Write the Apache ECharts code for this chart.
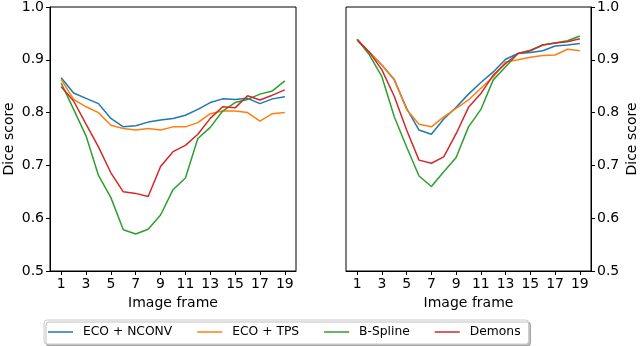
<!DOCTYPE html>
<html>
<head>
<meta charset="utf-8">
<script src="https://cdn.jsdelivr.net/npm/echarts@6/dist/echarts.min.js"></script>
<style>
    html, body { margin: 0; padding: 0; background: #fff; }
    #chart { width: 640px; height: 346px; }
</style>
</head>
<body>
<div id="chart"></div>
<script>
// 数据
var frames = [1,2,3,4,5,6,7,8,9,10,11,12,13,14,15,16,17,18,19];
var xTicks = [1,3,5,7,9,11,13,15,17,19];
var seriesNames = ['ECO + NCONV','ECO + TPS','B-Spline','Demons'];
var colors = ['#1f77b4','#ff7f0e','#2ca02c','#d62728'];

// 左图
var leftNconv = [0.866,0.837,0.827,0.817,0.789,0.773,0.775,0.782,0.786,0.789,0.795,0.806,0.819,0.826,0.825,0.827,0.817,0.826,0.830];
var leftTps = [0.863,0.825,0.811,0.800,0.776,0.770,0.767,0.770,0.767,0.773,0.773,0.781,0.798,0.803,0.803,0.800,0.784,0.798,0.800];
var leftBspline = [0.856,0.806,0.756,0.681,0.639,0.578,0.570,0.579,0.606,0.654,0.676,0.751,0.772,0.803,0.819,0.825,0.835,0.841,0.860];
var leftDemons = [0.849,0.822,0.778,0.735,0.686,0.650,0.647,0.641,0.698,0.726,0.738,0.759,0.789,0.811,0.809,0.832,0.824,0.833,0.843];

// 右图
var rightNconv = [0.939,0.914,0.890,0.862,0.808,0.767,0.759,0.788,0.810,0.835,0.857,0.877,0.901,0.912,0.914,0.917,0.926,0.928,0.931];
var rightTps = [0.939,0.914,0.890,0.863,0.806,0.778,0.773,0.792,0.808,0.824,0.846,0.868,0.896,0.900,0.905,0.908,0.909,0.920,0.917];
var rightBspline = [0.939,0.909,0.868,0.792,0.735,0.680,0.660,0.688,0.715,0.773,0.806,0.862,0.887,0.912,0.918,0.928,0.932,0.936,0.945];
var rightDemons = [0.937,0.914,0.881,0.831,0.767,0.710,0.704,0.716,0.760,0.810,0.836,0.871,0.893,0.912,0.917,0.928,0.932,0.934,0.940];

var font = 'DejaVu Sans';

function pairs(values) {
    var out = [];
    for (var i = 0; i < frames.length; i++) {
        out.push([frames[i], values[i]]);
    }
    return out;
}

function makeXAxis(idx) {
    return {
        type: 'value',
        gridIndex: idx,
        min: 0.1,
        max: 19.9,
        name: 'Image frame',
        nameLocation: 'middle',
        nameGap: 24,
        nameTextStyle: { fontFamily: font, fontSize: 14, color: '#000' },
        axisLine: { show: true, lineStyle: { color: '#000', width: 1 } },
        axisTick: { show: true, length: 4, customValues: xTicks, lineStyle: { color: '#000' } },
        axisLabel: { customValues: xTicks, margin: 6, fontFamily: font, fontSize: 14, color: '#000' },
        splitLine: { show: false }
    };
}

function makeYAxis(idx, pos) {
    return {
        type: 'value',
        gridIndex: idx,
        position: pos,
        min: 0.5,
        max: 1.0,
        interval: 0.1,
        name: 'Dice score',
        nameLocation: 'middle',
        nameRotate: 90,
        nameGap: 34,
        nameTextStyle: { fontFamily: font, fontSize: 14, color: '#000' },
        axisLine: { show: true, lineStyle: { color: '#000', width: 1 } },
        axisTick: { show: true, length: 4, lineStyle: { color: '#000' } },
        axisLabel: {
            margin: 6, fontFamily: font, fontSize: 14, color: '#000',
            formatter: function (v) { return v.toFixed(1); }
        },
        splitLine: { show: false }
    };
}

function makeLine(name, color, idx, values) {
    return {
        name: name,
        type: 'line',
        xAxisIndex: idx,
        yAxisIndex: idx,
        data: pairs(values),
        symbol: 'none',
        lineStyle: { color: color, width: 1.5 },
        itemStyle: { color: color },
        animation: false
    };
}

var myChart = echarts.init(document.getElementById('chart'));

var option = {
    backgroundColor: '#fff',
    animation: false,
    grid: [
        { left: 50, top: 7, width: 246, height: 264, show: true, borderColor: '#000', borderWidth: 1 },
        { left: 346, top: 7, width: 246, height: 264, show: true, borderColor: '#000', borderWidth: 1 }
    ],
    xAxis: [makeXAxis(0), makeXAxis(1)],
    yAxis: [makeYAxis(0, 'left'), makeYAxis(1, 'right')],
    legend: {
        left: 44,
        top: 320,
        data: seriesNames,
        icon: 'rect',
        itemWidth: 25,
        itemHeight: 1.5,
        itemGap: 25,
        padding: [6, 8, 6, 4],
        backgroundColor: '#fff',
        borderColor: '#ccc',
        borderWidth: 1,
        borderRadius: 3,
        shadowColor: 'rgba(0,0,0,0.25)',
        shadowOffsetX: 2,
        shadowOffsetY: 2,
        shadowBlur: 0,
        textStyle: { fontFamily: font, fontSize: 12.3, color: '#000', padding: [0, 0, 0, 5] }
    },
    series: [
        makeLine(seriesNames[0], colors[0], 0, leftNconv),
        makeLine(seriesNames[1], colors[1], 0, leftTps),
        makeLine(seriesNames[2], colors[2], 0, leftBspline),
        makeLine(seriesNames[3], colors[3], 0, leftDemons),
        makeLine(seriesNames[0], colors[0], 1, rightNconv),
        makeLine(seriesNames[1], colors[1], 1, rightTps),
        makeLine(seriesNames[2], colors[2], 1, rightBspline),
        makeLine(seriesNames[3], colors[3], 1, rightDemons)
    ]
};

myChart.setOption(option);
</script>
</body>
</html>
